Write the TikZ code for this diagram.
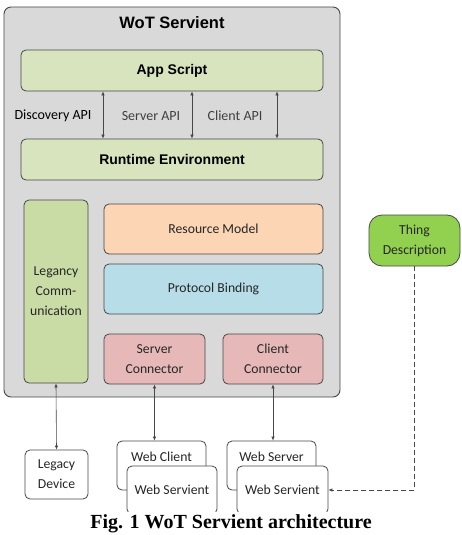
\documentclass[tikz,border=0pt]{standalone}
\usepackage{fontspec}
\setmainfont{Carlito}
\newfontfamily\headfont{Liberation Sans}
\newfontfamily\capfont{Liberation Serif}
\usetikzlibrary{arrows.meta, positioning}

\definecolor{servientgray}{HTML}{D9D9D9}
\definecolor{layergreen}{HTML}{D7E4BD}
\definecolor{legancygreen}{HTML}{CADCA5}
\definecolor{modelpeach}{HTML}{FCD5B5}
\definecolor{bindingblue}{HTML}{B7DEE8}
\definecolor{connectorpink}{HTML}{E6B9B8}
\definecolor{tdgreen}{HTML}{92D050}
\definecolor{edgegray}{HTML}{474747}

\tikzset{
    block/.style={draw=edgegray, line width=0.8pt, rounded corners=5pt, align=center,
        inner sep=2pt, text=black!85, font=\fontsize{13.7}{20}\selectfont},
    layer/.style={block, fill=layergreen, minimum width=302pt, minimum height=41pt,
        text=black, font=\headfont\bfseries\fontsize{14}{16}\selectfont},
    stackbox/.style={block, fill=white, minimum width=89pt, minimum height=49pt},
    link/.style={draw=edgegray, line width=0.6pt, -{Latex[length=4pt,width=3.5pt]}},
    biglink/.style={link, {Latex[length=4pt,width=3.5pt]}-{Latex[length=4pt,width=3.5pt]}},
}

\begin{document}
\begin{tikzpicture}[x=1pt, y=-1pt]

\useasboundingbox (0,0) rectangle (461,535);

% the servient
\node[draw=edgegray, line width=0.9pt, fill=servientgray, rounded corners=7pt,
    minimum width=336pt, minimum height=390pt] (servient) at (172, 202) {};
\node[font=\headfont\bfseries\fontsize{16.5}{18}\selectfont] (title) at (172, 23) {WoT Servient};

% scripting layers
\node[layer] (app) at (172, 70.5) {App Script};
\node[layer] (runtime) at (172, 159.5) {Runtime Environment};

% APIs between them
\foreach \x in {103, 192, 277} {
    \draw[biglink] (app.south -| \x, 0) -- (runtime.north -| \x, 0);
}
\node[font=\fontsize{14}{16}\selectfont] (discovery) at (53, 116) {Discovery API};
\node[font=\fontsize{14}{16}\selectfont, text=black!75] (serverapi) at (151, 116) {Server API};
\node[font=\fontsize{14}{16}\selectfont, text=black!75] (clientapi) at (235, 116) {Client API};

% lower blocks
\node[block, fill=legancygreen, minimum width=64pt, minimum height=183pt] (legancy) at (56, 291.5)
    {Legancy\\Comm-\\unication};
\node[block, fill=modelpeach, minimum width=219pt, minimum height=50pt] (resource) at (213.5, 229)
    {Resource Model};
\node[block, fill=bindingblue, minimum width=219pt, minimum height=50pt] (protocol) at (213.5, 289)
    {Protocol Binding};
\node[block, fill=connectorpink, minimum width=101pt, minimum height=50pt] (serverconn) at (154.5, 359)
    {Server\\Connector};
\node[block, fill=connectorpink, minimum width=100pt, minimum height=50pt] (clientconn) at (273, 359)
    {Client\\Connector};

% thing description
\node[block, fill=tdgreen, rounded corners=13pt, minimum width=91pt, minimum height=51pt] (thing)
    at (414.5, 240.5) {Thing\\Description};

% outside devices
\node[stackbox, minimum width=63pt] (legacydev) at (56.5, 474.5) {Legacy\\Device};

\begin{scope}
    \clip (0, 0) rectangle (461, 511.5);
    \node[stackbox, text depth=18pt] (webclient) at (161.5, 465.5) {Web Client};
    \node[stackbox, minimum width=90pt, minimum height=48pt] (webservient-1) at (172, 490) {Web Servient};
    \node[stackbox, text depth=18pt] (webserver) at (271.5, 465.5) {Web Server};
    \node[stackbox, minimum width=91pt, minimum height=48pt] (webservient-2) at (282.5, 490) {Web Servient};
\end{scope}

% connect the servient with the outside
\draw[biglink] (legancy.south) -- (legacydev.north);
\draw[biglink] (serverconn.south) -- (serverconn.south |- webclient.north);
\draw[biglink] (clientconn.south) -- (clientconn.south |- webserver.north);
\draw[link, dashed, dash pattern=on 5pt off 3pt] (thing.south) -- (thing.south |- webservient-2.east) -- (webservient-2.east);

% caption
\node[font=\capfont\bfseries\fontsize{20}{22}\selectfont] (caption) at (231, 524)
    {Fig. 1 WoT Servient architecture};

\end{tikzpicture}
\end{document}
